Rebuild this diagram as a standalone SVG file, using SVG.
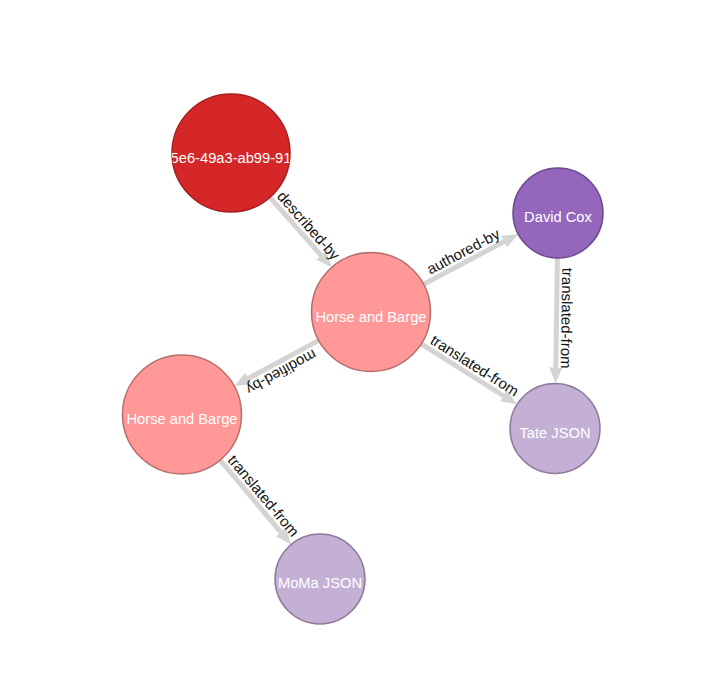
<svg xmlns="http://www.w3.org/2000/svg" width="720" height="673" viewBox="0 0 720 673">
<style>
.edge{stroke:#d4d4d4;stroke-width:5;fill:none}
.elabel{font-family:"Liberation Sans",Arial,sans-serif;font-size:15px;fill:#111;text-anchor:middle}
.nlabel{font-family:"Liberation Sans",Arial,sans-serif;font-size:14.7px;fill:#fff;text-anchor:middle}
.red{fill:#d62728;stroke:#a51e1f;stroke-width:1.5}
.pink{fill:#ff9896;stroke:#b56f6d;stroke-width:1.5}
.purple{fill:#9467bd;stroke:#6f4b90;stroke-width:1.5}
.lpurple{fill:#c5b0d5;stroke:#8f7d9d;stroke-width:1.5}
</style>
<defs>
<marker id="arrow" markerUnits="userSpaceOnUse" markerWidth="16" markerHeight="13" refX="6" refY="6.5" orient="auto">
<path d="M0,0 L16,6.5 L0,13 z" fill="#d4d4d4"/>
</marker>
<clipPath id="clip0"><circle cx="231" cy="153" r="59"/></clipPath>
</defs>
<rect width="720" height="673" fill="#fff"/>
<g id="connectors">
<g id="e1"><line class="edge" x1="270" y1="197.3" x2="325" y2="259.8" marker-end="url(#arrow)"/>
<text class="elabel" transform="translate(300.9,232.3) rotate(48.64)" y="-5">described-by</text></g>
<g id="e2"><line class="edge" x1="423.6" y1="284.2" x2="509.4" y2="238.8" marker-end="url(#arrow)"/>
<text class="elabel" transform="translate(468,260.5) rotate(-27.9)" y="-5">authored-by</text></g>
<g id="e3"><line class="edge" x1="557.4" y1="258" x2="555.7" y2="373.5" marker-end="url(#arrow)"/>
<text class="elabel" transform="translate(556.5,318) rotate(90.8)" y="-5">translated-from</text></g>
<g id="e4"><line class="edge" x1="421.3" y1="343.8" x2="508.5" y2="399" marker-end="url(#arrow)"/>
<text class="elabel" transform="translate(469.2,374.1) rotate(32.34)" y="-5">translated-from</text></g>
<g id="e5"><line class="edge" x1="318.7" y1="340.4" x2="243.1" y2="381.3" marker-end="url(#arrow)"/>
<text class="elabel" transform="translate(276.5,363.2) rotate(151.52)" y="-5">modified-by</text></g>
<g id="e6"><line class="edge" x1="220.2" y1="460.1" x2="284.7" y2="536.8" marker-end="url(#arrow)"/>
<text class="elabel" transform="translate(255.7,502.3) rotate(50)" y="-5">translated-from</text></g>
</g>
<g id="n0"><circle class="red" cx="231" cy="153" r="59"/>
<text class="nlabel" x="231" y="162.5" clip-path="url(#clip0)">5e6-49a3-ab99-91</text></g>
<g id="n1"><circle class="pink" cx="371" cy="312" r="59.5"/>
<text class="nlabel" x="371" y="321.5">Horse and Barge</text></g>
<g id="n2"><circle class="purple" cx="558" cy="213" r="45"/>
<text class="nlabel" x="558" y="222">David Cox</text></g>
<g id="n3"><circle class="lpurple" cx="555" cy="428.5" r="45"/>
<text class="nlabel" x="555" y="437.5">Tate JSON</text></g>
<g id="n4"><circle class="pink" cx="182" cy="414.5" r="59.5"/>
<text class="nlabel" x="182" y="424">Horse and Barge</text></g>
<g id="n5"><circle class="lpurple" cx="320" cy="579" r="45"/>
<text class="nlabel" x="320" y="588">MoMa JSON</text></g>
</svg>
